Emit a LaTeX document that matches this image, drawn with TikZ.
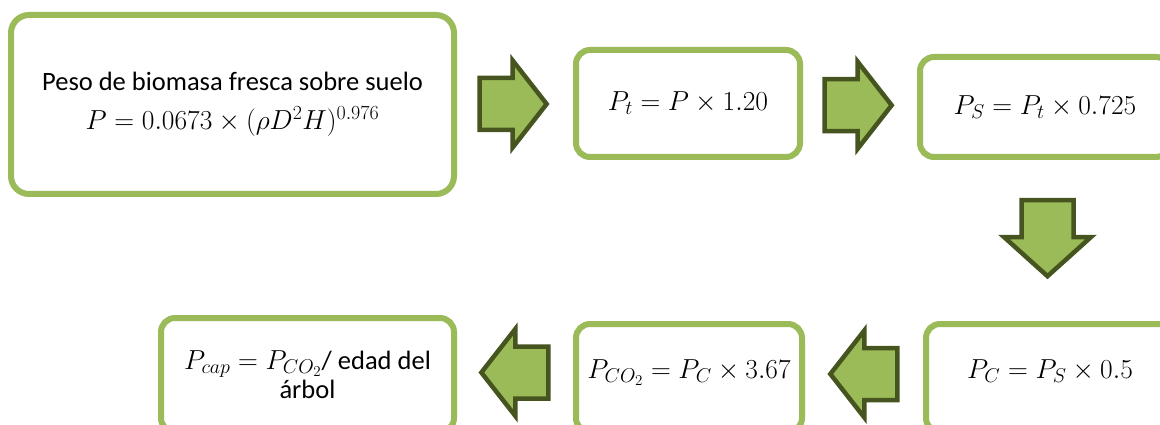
\RequirePackage{fix-cm}
\documentclass[tikz,border=0pt]{standalone}
\usepackage[no-math]{fontspec}
\setmainfont{Carlito}
\DeclareMathSizes{26.5}{27.5}{20}{15}
\usetikzlibrary{shapes.arrows,calc}
\definecolor{leafgreen}{RGB}{155,187,89}
\definecolor{darkleaf}{RGB}{70,85,32}
\tikzset{
  stepbox/.style={draw=leafgreen, line width=6pt, rounded corners=14pt, fill=white, align=center, inner sep=0pt},
  blockarrow/.style={single arrow, draw=darkleaf, fill=leafgreen, line width=4.5pt, minimum height=67pt, inner xsep=0pt, inner ysep=23.75pt, single arrow head extend=17.5pt, single arrow tip angle=104},
  lowtext/.style={text height=18pt, text depth=18pt}
}
\begin{document}
\begin{tikzpicture}[x=1pt,y=-1pt,font=\fontsize{26.5}{27}\selectfont]
\useasboundingbox (0,0) rectangle (1160,425);
\clip (0,0) rectangle (1160,425);
% upper row
\node[stepbox, minimum width=443pt, minimum height=179pt, rounded corners=18pt] (peso) at (232.5,104.5)
  {Peso de biomasa fresca sobre suelo\\[12pt]$P = 0.0673 \times (\rho D^2 H)^{0.976}$};
\node[stepbox, minimum width=224pt, minimum height=107pt] (pt) at (688,103.5) {$P_t = P \times 1.20$};
\node[stepbox, minimum width=250pt, minimum height=100pt] (ps) at (1045,107) {$P_S = P_t \times 0.725$};
% lower row
\node[stepbox, lowtext, minimum width=248pt, minimum height=108pt] (pc) at (1050,378) {$P_C = P_S \times 0.5$};
\node[stepbox, lowtext, minimum width=226pt, minimum height=108pt] (pco) at (689,378) {$P_{CO_2} = P_C \times 3.67$};
\node[stepbox, minimum width=293pt, minimum height=114pt] (pcap) at (307.5,375)
  {$P_{cap} = P_{CO_2}$/ edad del\\[2pt]árbol};
% block arrows
\node[blockarrow, xshift=-12pt] (a1) at ($(peso.east)!0.5!(pt.west)$) {};
\node[blockarrow, xshift=-12pt] (a2) at ($(pt.east)!0.5!(ps.west)$) {};
\node[blockarrow, yshift=14pt, rotate=-90, minimum height=76pt, single arrow tip angle=96] (a3) at ($(ps.south)!0.5!(pc.north)$) {};
\node[blockarrow, xshift=10pt, yshift=4pt, rotate=180] (a4) at ($(pco.east)!0.5!(pc.west)$) {};
\node[blockarrow, xshift=10pt, yshift=4pt, rotate=180] (a5) at ($(pcap.east)!0.5!(pco.west)$) {};
\end{tikzpicture}
\end{document}
